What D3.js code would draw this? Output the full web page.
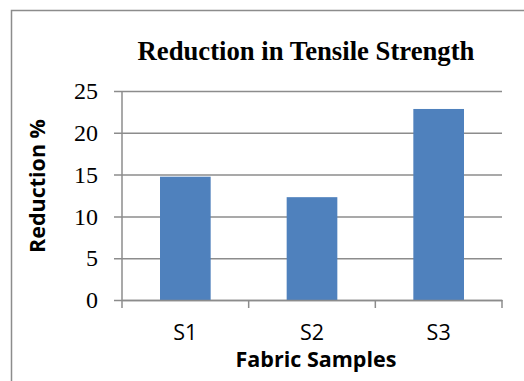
<!DOCTYPE html>
<html>
<head>
<meta charset="utf-8">
<script src="https://cdn.jsdelivr.net/npm/d3@7"></script>
<style>
  body { margin: 0; background: #fff; }
</style>
</head>
<body>
<div id="chart"></div>
<script>
// data
var samples = ["S1", "S2", "S3"];
var reduction = [14.75, 12.3, 22.85];
var yTicks = [0, 5, 10, 15, 20, 25];

var svgWidth = 524;
var svgHeight = 381;

var margin = { top: 91, bottom: 81, left: 122, right: 22 };
var width = svgWidth - margin.left - margin.right;
var height = svgHeight - margin.top - margin.bottom;

var serif = "'Liberation Serif', 'Times New Roman', serif";
var sans = "'Open Sans', 'Noto Sans', sans-serif";

var svg = d3.select("#chart")
    .append("svg")
    .attr("width", svgWidth)
    .attr("height", svgHeight);

// outer frame (runs off the right and bottom edges)
svg.append("rect")
    .attr("x", 11.5)
    .attr("y", 10.5)
    .attr("width", 530)
    .attr("height", 400)
    .attr("fill", "none")
    .attr("stroke", "#8c8c8c")
    .attr("stroke-width", 1.5);

var chartGroup = svg.append("g")
    .attr("transform", `translate(${margin.left}, ${margin.top})`);

// scales
var xScale = d3.scaleBand()
    .domain(samples)
    .range([0, width])
    .padding(0);

var yScale = d3.scaleLinear()
    .domain([0, 25])
    .range([height, 0]);

// gridlines + y axis
var yAxis = d3.axisLeft(yScale)
    .tickValues(yTicks)
    .tickSize(-width)
    .tickPadding(24)
    .tickFormat(d3.format("d"));

var yG = chartGroup.append("g").call(yAxis);
yG.select(".domain").remove();
yG.selectAll(".tick line")
    .attr("x1", -8)
    .attr("stroke", "#8c8c8c")
    .attr("stroke-width", 1.5);
yG.selectAll(".tick text")
    .attr("font-family", serif)
    .attr("font-size", 24)
    .attr("fill", "#000");

// bars
chartGroup.selectAll(".bar")
    .data(samples)
    .enter()
    .append("rect")
    .attr("class", "bar")
    .attr("x", (d, i) => xScale(d) + xScale.bandwidth() * 0.3)
    .attr("width", xScale.bandwidth() * 0.4)
    .attr("y", (d, i) => yScale(reduction[i]))
    .attr("height", (d, i) => height - yScale(reduction[i]))
    .attr("fill", "#4f81bd");

// y axis line
chartGroup.append("line")
    .attr("x1", 0).attr("x2", 0)
    .attr("y1", 0).attr("y2", height + 8)
    .attr("stroke", "#8c8c8c")
    .attr("stroke-width", 1.5);

// x axis
var xAxis = d3.axisBottom(xScale).tickSize(0).tickPadding(25);
var xG = chartGroup.append("g")
    .attr("transform", `translate(0, ${height})`)
    .call(xAxis);
xG.select(".domain")
    .attr("stroke", "#8c8c8c")
    .attr("stroke-width", 1.5);
xG.selectAll(".tick text")
    .attr("font-family", sans)
    .attr("font-size", 21.5)
    .attr("fill", "#000");

// category boundary ticks
chartGroup.selectAll(".xtick")
    .data(samples)
    .enter()
    .append("line")
    .attr("x1", d => xScale(d) + xScale.bandwidth())
    .attr("x2", d => xScale(d) + xScale.bandwidth())
    .attr("y1", height)
    .attr("y2", height + 8)
    .attr("stroke", "#8c8c8c")
    .attr("stroke-width", 1.5);

// title
svg.append("text")
    .attr("x", 306)
    .attr("y", 60)
    .attr("text-anchor", "middle")
    .attr("font-family", serif)
    .attr("font-weight", "bold")
    .attr("font-size", 26.7)
    .text("Reduction in Tensile Strength");

// axis titles
svg.append("text")
    .attr("x", 316)
    .attr("y", 367)
    .attr("text-anchor", "middle")
    .attr("font-family", sans)
    .attr("font-weight", "bold")
    .attr("font-size", 21.5)
    .text("Fabric Samples");

svg.append("text")
    .attr("transform", "translate(45, 186) rotate(-90)")
    .attr("text-anchor", "middle")
    .attr("font-family", sans)
    .attr("font-weight", "bold")
    .attr("font-size", 21.5)
    .text("Reduction %");
</script>
</body>
</html>
